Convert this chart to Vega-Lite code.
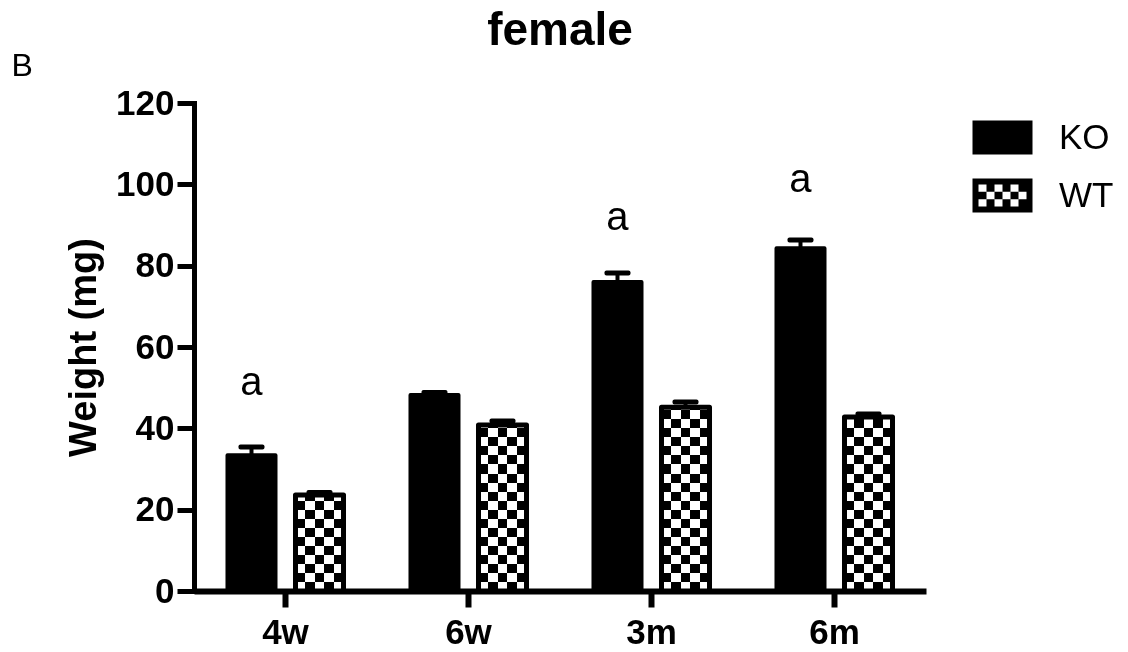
{
  "$schema": "https://vega.github.io/schema/vega-lite/v6.json",
  "width": 732,
  "height": 488,
  "autosize": {"type": "none"},
  "padding": {"left": 194, "top": 103, "right": 202, "bottom": 61},
  "background": "white",
  "title": {"text": "female", "fontSize": 46, "fontWeight": "bold", "font": "Liberation Sans", "color": "black", "anchor": "middle", "frame": "group", "offset": 5, "baseline": "alphabetic", "dy": 47},
  "config": {
    "view": {"stroke": null},
    "font": "Liberation Sans",
    "axis": {"grid": false},
    "axisY": {
      "tickCount": 7, "titleFontSize": 38, "titleFontWeight": "bold", "titleColor": "black", "titleFont": "Liberation Sans", "titlePadding": 12,
      "labelFontSize": 35, "labelFontWeight": "bold", "labelColor": "black", "labelFont": "Liberation Sans", "labelPadding": 3,
      "tickSize": 17, "tickWidth": 5, "tickColor": "black", "domainWidth": 5, "domainColor": "black", "domainCap": "square"
    }
  },
  "datasets": {
    "bars": [
      {"age": "4w", "group": "KO", "mean": 33.4, "upper": 35.4},
      {"age": "4w", "group": "WT", "mean": 23.6, "upper": 24.2},
      {"age": "6w", "group": "KO", "mean": 48.2, "upper": 48.8},
      {"age": "6w", "group": "WT", "mean": 40.8, "upper": 41.8},
      {"age": "3m", "group": "KO", "mean": 76.0, "upper": 78.2},
      {"age": "3m", "group": "WT", "mean": 45.2, "upper": 46.5},
      {"age": "6m", "group": "KO", "mean": 84.3, "upper": 86.3},
      {"age": "6m", "group": "WT", "mean": 42.8, "upper": 43.5}
    ],
    "letters": [
      {"age": "4w", "group": "KO", "pos": 48.2, "text": "a"},
      {"age": "3m", "group": "KO", "pos": 88.8, "text": "a"},
      {"age": "6m", "group": "KO", "pos": 98.1, "text": "a"}
    ]
  },
  "data": {"name": "bars"},
  "encoding": {
    "x": {
      "field": "age", "type": "nominal", "sort": ["4w", "6w", "3m", "6m"],
      "scale": {"domain": ["4w", "6w", "3m", "6m"], "paddingInner": 0.366, "paddingOuter": 0.183},
      "axis": {
        "title": "B", "titleAngle": 0, "titleAlign": "left", "titleBaseline": "alphabetic",
        "titleX": -183, "titleY": -516, "titleFontSize": 32, "titleFontWeight": "normal", "titleColor": "black", "titleFont": "Liberation Sans",
        "labelAngle": 0, "labelFontSize": 35, "labelFontWeight": "bold", "labelColor": "black", "labelFont": "Liberation Sans", "labelPadding": 8,
        "tickSize": 16, "tickWidth": 6, "tickColor": "black", "domainWidth": 6, "domainColor": "black"
      }
    },
    "xOffset": {"field": "group", "type": "nominal", "scale": {"domain": ["KO", "WT"], "paddingInner": 0.294, "paddingOuter": 0}}
  },
  "layer": [
    {
      "transform": [{"filter": "datum.group === 'KO'"}],
      "mark": {"type": "bar", "fill": "black", "stroke": "black", "strokeWidth": 4, "strokeJoin": "round"},
      "encoding": {
        "y": {"field": "mean", "type": "quantitative", "title": "Weight (mg)", "scale": {"domain": [0, 120], "nice": false, "zero": true}}
      }
    },
    {
      "transform": [{"filter": "datum.group === 'WT'"}],
      "mark": {
        "type": "bar", "strokeWidth": 0,
        "fill": {"gradient": "linear", "x1": 0, "y1": 0, "x2": 0, "y2": 1, "stops": [
          {"offset": 0, "color": "#000"}, {"offset": 0.0185, "color": "#000"},
          {"offset": 0.0185, "color": "#fff"}, {"offset": 0.0370, "color": "#fff"},
          {"offset": 0.0370, "color": "#000"}, {"offset": 0.0556, "color": "#000"},
          {"offset": 0.0556, "color": "#fff"}, {"offset": 0.0741, "color": "#fff"},
          {"offset": 0.0741, "color": "#000"}, {"offset": 0.0926, "color": "#000"},
          {"offset": 0.0926, "color": "#fff"}, {"offset": 0.1111, "color": "#fff"},
          {"offset": 0.1111, "color": "#000"}, {"offset": 0.1296, "color": "#000"},
          {"offset": 0.1296, "color": "#fff"}, {"offset": 0.1481, "color": "#fff"},
          {"offset": 0.1481, "color": "#000"}, {"offset": 0.1667, "color": "#000"},
          {"offset": 0.1667, "color": "#fff"}, {"offset": 0.1852, "color": "#fff"},
          {"offset": 0.1852, "color": "#000"}, {"offset": 0.2037, "color": "#000"},
          {"offset": 0.2037, "color": "#fff"}, {"offset": 0.2222, "color": "#fff"},
          {"offset": 0.2222, "color": "#000"}, {"offset": 0.2407, "color": "#000"},
          {"offset": 0.2407, "color": "#fff"}, {"offset": 0.2593, "color": "#fff"},
          {"offset": 0.2593, "color": "#000"}, {"offset": 0.2778, "color": "#000"},
          {"offset": 0.2778, "color": "#fff"}, {"offset": 0.2963, "color": "#fff"},
          {"offset": 0.2963, "color": "#000"}, {"offset": 0.3148, "color": "#000"},
          {"offset": 0.3148, "color": "#fff"}, {"offset": 0.3333, "color": "#fff"},
          {"offset": 0.3333, "color": "#000"}, {"offset": 0.3519, "color": "#000"},
          {"offset": 0.3519, "color": "#fff"}, {"offset": 0.3704, "color": "#fff"},
          {"offset": 0.3704, "color": "#000"}, {"offset": 0.3889, "color": "#000"},
          {"offset": 0.3889, "color": "#fff"}, {"offset": 0.4074, "color": "#fff"},
          {"offset": 0.4074, "color": "#000"}, {"offset": 0.4259, "color": "#000"},
          {"offset": 0.4259, "color": "#fff"}, {"offset": 0.4444, "color": "#fff"},
          {"offset": 0.4444, "color": "#000"}, {"offset": 0.4630, "color": "#000"},
          {"offset": 0.4630, "color": "#fff"}, {"offset": 0.4815, "color": "#fff"},
          {"offset": 0.4815, "color": "#000"}, {"offset": 0.5, "color": "#000"},
          {"offset": 0.5, "color": "#fff"}, {"offset": 0.5185, "color": "#fff"},
          {"offset": 0.5185, "color": "#000"}, {"offset": 0.5370, "color": "#000"},
          {"offset": 0.5370, "color": "#fff"}, {"offset": 0.5556, "color": "#fff"},
          {"offset": 0.5556, "color": "#000"}, {"offset": 0.5741, "color": "#000"},
          {"offset": 0.5741, "color": "#fff"}, {"offset": 0.5926, "color": "#fff"},
          {"offset": 0.5926, "color": "#000"}, {"offset": 0.6111, "color": "#000"},
          {"offset": 0.6111, "color": "#fff"}, {"offset": 0.6296, "color": "#fff"},
          {"offset": 0.6296, "color": "#000"}, {"offset": 0.6481, "color": "#000"},
          {"offset": 0.6481, "color": "#fff"}, {"offset": 0.6667, "color": "#fff"},
          {"offset": 0.6667, "color": "#000"}, {"offset": 0.6852, "color": "#000"},
          {"offset": 0.6852, "color": "#fff"}, {"offset": 0.7037, "color": "#fff"},
          {"offset": 0.7037, "color": "#000"}, {"offset": 0.7222, "color": "#000"},
          {"offset": 0.7222, "color": "#fff"}, {"offset": 0.7407, "color": "#fff"},
          {"offset": 0.7407, "color": "#000"}, {"offset": 0.7593, "color": "#000"},
          {"offset": 0.7593, "color": "#fff"}, {"offset": 0.7778, "color": "#fff"},
          {"offset": 0.7778, "color": "#000"}, {"offset": 0.7963, "color": "#000"},
          {"offset": 0.7963, "color": "#fff"}, {"offset": 0.8148, "color": "#fff"},
          {"offset": 0.8148, "color": "#000"}, {"offset": 0.8333, "color": "#000"},
          {"offset": 0.8333, "color": "#fff"}, {"offset": 0.8519, "color": "#fff"},
          {"offset": 0.8519, "color": "#000"}, {"offset": 0.8704, "color": "#000"},
          {"offset": 0.8704, "color": "#fff"}, {"offset": 0.8889, "color": "#fff"},
          {"offset": 0.8889, "color": "#000"}, {"offset": 0.9074, "color": "#000"},
          {"offset": 0.9074, "color": "#fff"}, {"offset": 0.9259, "color": "#fff"},
          {"offset": 0.9259, "color": "#000"}, {"offset": 0.9444, "color": "#000"},
          {"offset": 0.9444, "color": "#fff"}, {"offset": 0.9630, "color": "#fff"},
          {"offset": 0.9630, "color": "#000"}, {"offset": 0.9815, "color": "#000"},
          {"offset": 0.9815, "color": "#fff"}, {"offset": 1, "color": "#fff"}
        ]}
      },
      "encoding": {
        "y": {"datum": 120, "type": "quantitative", "title": "Weight (mg)", "scale": {"domain": [0, 120], "nice": false, "zero": true}},
        "y2": {"datum": 0}
      }
    },
    {
      "transform": [{"filter": "datum.group === 'WT'"}],
      "mark": {
        "type": "bar", "strokeWidth": 0, "blend": "difference",
        "fill": {"gradient": "linear", "x1": 0, "y1": 0, "x2": 1, "y2": 0, "stops": [
          {"offset": 0, "color": "#000"}, {"offset": 0.2, "color": "#000"},
          {"offset": 0.2, "color": "#fff"}, {"offset": 0.4, "color": "#fff"},
          {"offset": 0.4, "color": "#000"}, {"offset": 0.6, "color": "#000"},
          {"offset": 0.6, "color": "#fff"}, {"offset": 0.8, "color": "#fff"},
          {"offset": 0.8, "color": "#000"}, {"offset": 1, "color": "#000"}
        ]}
      },
      "encoding": {
        "y": {"datum": 120, "type": "quantitative", "title": "Weight (mg)", "scale": {"domain": [0, 120], "nice": false, "zero": true}},
        "y2": {"datum": 0}
      }
    },
    {
      "transform": [{"filter": "datum.group === 'WT'"}],
      "mark": {"type": "bar", "fill": "white", "stroke": "white", "strokeWidth": 2},
      "encoding": {
        "y": {"field": "mean", "type": "quantitative", "title": "Weight (mg)", "scale": {"domain": [0, 120], "nice": false, "zero": true}},
        "y2": {"datum": 120}
      }
    },
    {
      "transform": [{"filter": "datum.group === 'WT'"}],
      "mark": {"type": "bar", "fill": "white", "fillOpacity": 0, "stroke": "black", "strokeWidth": 5, "strokeJoin": "round"},
      "encoding": {
        "y": {"field": "mean", "type": "quantitative", "title": "Weight (mg)", "scale": {"domain": [0, 120], "nice": false, "zero": true}}
      }
    },
    {
      "mark": {"type": "rule", "color": "black", "strokeWidth": 4},
      "encoding": {
        "y": {"field": "mean", "type": "quantitative", "title": "Weight (mg)", "scale": {"domain": [0, 120], "nice": false, "zero": true}},
        "y2": {"field": "upper"}
      }
    },
    {
      "mark": {"type": "tick", "color": "black", "size": 26, "thickness": 5, "cornerRadius": 2, "opacity": 1},
      "encoding": {
        "y": {"field": "upper", "type": "quantitative", "title": "Weight (mg)", "scale": {"domain": [0, 120], "nice": false, "zero": true}}
      }
    },
    {
      "data": {"name": "letters"},
      "mark": {"type": "text", "fontSize": 40, "font": "Liberation Sans", "color": "black", "baseline": "alphabetic", "align": "center"},
      "encoding": {
        "y": {"field": "pos", "type": "quantitative", "title": "Weight (mg)", "scale": {"domain": [0, 120], "nice": false, "zero": true}},
        "text": {"field": "text"}
      }
    },
    {
      "mark": {"type": "point", "filled": true, "color": "black", "opacity": 0},
      "encoding": {
        "y": {"field": "mean", "type": "quantitative", "title": "Weight (mg)", "scale": {"domain": [0, 120], "nice": false, "zero": true}},
        "shape": {
          "field": "group", "type": "nominal",
          "scale": {"domain": ["KO", "WT"], "range": [
            "M-2,-1.133L2,-1.133L2,1.133L-2,1.133Z",
            "M-2,-1.133L2,-1.133L2,1.133L-2,1.133ZM-1.6,-0.733L-1.6,-0.244L-1.067,-0.244L-1.067,-0.733ZM-0.533,-0.733L-0.533,-0.244L0,-0.244L0,-0.733ZM0.533,-0.733L0.533,-0.244L1.067,-0.244L1.067,-0.733ZM-1.067,-0.244L-1.067,0.244L-0.533,0.244L-0.533,-0.244ZM0,-0.244L0,0.244L0.533,0.244L0.533,-0.244ZM1.067,-0.244L1.067,0.244L1.6,0.244L1.6,-0.244ZM-1.6,0.244L-1.6,0.733L-1.067,0.733L-1.067,0.244ZM-0.533,0.244L-0.533,0.733L0,0.733L0,0.244ZM0.533,0.244L0.533,0.733L1.067,0.733L1.067,0.244Z"
          ]},
          "legend": {
            "title": null, "orient": "none", "legendX": 791, "legendY": 17,
            "symbolSize": 900, "symbolFillColor": "black", "symbolStrokeWidth": 0, "symbolOpacity": 1,
            "labelFontSize": 35, "labelFont": "Liberation Sans", "labelColor": "black", "labelOffset": 39, "rowPadding": 22
          }
        }
      }
    }
  ]
}
